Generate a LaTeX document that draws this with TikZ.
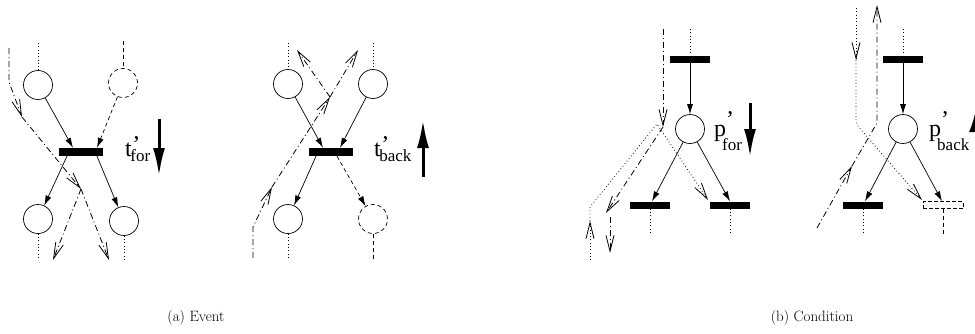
\documentclass[tikz,border=0pt]{standalone}
\usepackage{fontspec}
\newfontfamily\tms{Liberation Serif}
\usetikzlibrary{arrows.meta}
\newcommand\mylbl[6]{{\tms\fontsize{24}{24}\selectfont #1\rlap{\kern#3\raisebox{#4}{’}}}\kern#5\raisebox{-#6}{\tms\fontsize{17}{17}\selectfont #2}}
\tikzset{
 place/.style={circle,draw,line width=0.7pt,minimum size=29pt,inner sep=0pt},
 dplace/.style={place,dash pattern=on 4pt off 3pt},
 bar/.style={rectangle,fill=black,inner sep=0pt,minimum width=44pt,minimum height=8pt},
 cbar/.style={rectangle,fill=black,inner sep=0pt,minimum width=40pt,minimum height=7pt},
 dcbar/.style={rectangle,draw,line width=0.7pt,dash pattern=on 4pt off 2pt,inner sep=0pt,minimum width=40pt,minimum height=7pt},
 arc/.style={line width=0.7pt,-{Latex[length=10pt,width=6pt]}},
 darc/.style={arc,dash pattern=on 4pt off 3pt},
 dotln/.style={line width=0.8pt,dash pattern=on 0.8pt off 2.5pt},
 dashln/.style={line width=0.7pt,dash pattern=on 4pt off 3pt},
 dashdot/.style={line width=0.8pt,dash pattern=on 6pt off 3pt on 1pt off 3pt},
 flow/.style={-{Straight Barb[length=16pt,width=8pt,line width=0.8pt]}},
 bigarr/.style={line width=3pt,-{Latex[length=28pt,width=12pt]}},
 lab/.style={inner sep=0pt,anchor=base west},
 captext/.style={inner sep=0pt,font=\fontsize{15}{17}\selectfont}
}
\begin{document}
\begin{tikzpicture}[x=1pt,y=-1pt]
\useasboundingbox (0,0) rectangle (975,333);
% ---------- panel 1: event forward
\node[place] (p1a) at (38,85) {};
\node[dplace] (p1b) at (123,83) {};
\node[bar] (t1) at (81,152) {};
\node[place] (p1c) at (38,219) {};
\node[place] (p1d) at (124,221) {};
\coordinate (s1a) at (38,43); \coordinate (s1b) at (123,41);
\coordinate (s1c) at (38,260); \coordinate (s1d) at (124,260);
\draw[dotln] (s1a) -- (p1a);
\draw[dashln] (s1b) -- (p1b);
\draw[dotln] (p1c) -- (s1c);
\draw[dotln] (p1d) -- (s1d);
\draw[arc] (p1a) -- ([xshift=-8pt]t1.north);
\draw[darc] (p1b) -- ([xshift=16pt]t1.north);
\draw[arc] ([xshift=-14pt]t1.south) -- (p1c);
\draw[arc] ([xshift=16pt]t1.south) -- (p1d);
\coordinate (f1a) at (9,48); \coordinate (f1b) at (9,82); \coordinate (f1c) at (22,117);
\coordinate (f1d) at (81,189); \coordinate (f1e) at (53,260); \coordinate (f1f) at (109,260);
\draw[dashdot,flow] (f1a) -- (f1b) -- (f1c);
\draw[dashdot,flow] (f1c) -- (f1d);
\draw[dashdot,flow] (f1d) -- (f1e);
\draw[dashdot,flow] (f1d) -- (f1f);
\node[lab] (l1) at (125,156) {\mylbl{t}{for}{0.5pt}{4pt}{-1.5pt}{5pt}};
\coordinate (b1s) at (159,119); \coordinate (b1e) at (159,176);
\draw[bigarr] (b1s) -- (b1e);
% ---------- panel 2: event backward
\node[place] (p2a) at (288,84) {};
\node[place] (p2b) at (373,84) {};
\node[bar] (t2) at (331,152) {};
\node[place] (p2c) at (288,219) {};
\node[dplace] (p2d) at (373,219) {};
\coordinate (s2a) at (288,43); \coordinate (s2b) at (373,43);
\coordinate (s2c) at (288,260); \coordinate (s2d) at (373,260);
\draw[dotln] (s2a) -- (p2a);
\draw[dotln] (s2b) -- (p2b);
\draw[dotln] (p2c) -- (s2c);
\draw[dashln] (p2d) -- (s2d);
\draw[arc] (p2a) -- ([xshift=-8pt]t2.north);
\draw[arc] (p2b) -- ([xshift=9pt]t2.north);
\draw[arc] ([xshift=-15pt]t2.south) -- (p2c);
\draw[darc] ([xshift=6pt]t2.south) -- (p2d);
\coordinate (f2a) at (253,258); \coordinate (f2b) at (253,227); \coordinate (f2c) at (272,187);
\coordinate (f2d) at (330,97); \coordinate (f2e) at (358,50); \coordinate (f2f) at (297,50);
\draw[dashdot,flow] (f2a) -- (f2b) -- (f2c);
\draw[dashdot,flow] (f2c) -- (f2d);
\draw[dashdot,flow] (f2d) -- (f2e);
\draw[dashdot,flow] (f2d) -- (f2f);
\node[lab] (l2) at (374,156) {\mylbl{t}{back}{0.5pt}{4pt}{-1.5pt}{5pt}};
\coordinate (b2s) at (423,177); \coordinate (b2e) at (423,120);
\draw[bigarr] (b2s) -- (b2e);
% ---------- panel 3: condition forward
\node[cbar] (t3a) at (690,59) {};
\node[place] (p3) at (690,129) {};
\node[cbar] (t3b) at (650,205) {};
\node[cbar] (t3c) at (730,205) {};
\coordinate (s3a) at (690,29); \coordinate (s3b) at (650,235); \coordinate (s3c) at (730,235);
\draw[dotln] (s3a) -- (t3a.north);
\draw[dotln] (t3b.south) -- (s3b);
\draw[dotln] (t3c.south) -- (s3c);
\draw[arc] (t3a) -- (p3);
\draw[arc] (p3) -- ([xshift=2pt]t3b.north);
\draw[arc] (p3) -- (t3c.north);
\coordinate (f3a) at (663,29); \coordinate (f3b) at (663,127); \coordinate (f3c) at (606,213);
\coordinate (f3d) at (610,217); \coordinate (f3e) at (610,253);
\draw[dashdot,flow] (f3a) -- (f3b);
\draw[dashdot,flow] (f3b) -- (f3c);
\draw[dashdot,flow] (f3d) -- (f3e);
\coordinate (g3a) at (590,260); \coordinate (g3b) at (590,221); \coordinate (g3c) at (590,207);
\coordinate (g3d) at (657,124); \coordinate (g3e) at (708,200);
\draw[dotln,flow] (g3a) -- (g3b);
\draw[dotln,flow] (g3b) -- (g3c) -- (g3d) -- (g3e);
\node[lab] (l3) at (714,136) {\mylbl{p}{for}{0pt}{9pt}{-4pt}{14pt}};
\coordinate (b3s) at (750,103); \coordinate (b3e) at (750,157);
\draw[bigarr] (b3s) -- (b3e);
% ---------- panel 4: condition backward
\node[cbar] (t4a) at (903,59) {};
\node[place] (p4) at (903,129) {};
\node[cbar] (t4b) at (863,205) {};
\node[dcbar] (t4c) at (943,205) {};
\coordinate (s4a) at (903,29); \coordinate (s4b) at (863,235); \coordinate (s4c) at (943,235);
\draw[dotln] (s4a) -- (t4a.north);
\draw[dotln] (t4b.south) -- (s4b);
\draw[dashln] (t4c.south) -- (s4c);
\draw[arc] (t4a) -- (p4);
\draw[arc] (p4) -- ([xshift=2pt]t4b.north);
\draw[arc] (p4) -- ([xshift=-1pt]t4c.north);
\coordinate (g4a) at (856,8); \coordinate (g4b) at (856,60); \coordinate (g4c) at (856,124);
\coordinate (g4d) at (922,200);
\draw[dotln,flow] (g4a) -- (g4b);
\draw[dotln,flow,rounded corners=5pt] (g4b) -- (g4c) -- (g4d);
\coordinate (f4a) at (817,228); \coordinate (f4b) at (852,166); \coordinate (f4c) at (877,123);
\coordinate (f4d) at (877,5);
\draw[dashdot,flow] (f4a) -- (f4b);
\draw[dashdot,flow] (f4b) -- (f4c) -- (f4d);
\node[lab] (l4) at (929,136) {\mylbl{p}{back}{0pt}{9pt}{-4pt}{14pt}};
\coordinate (b4s) at (977,160); \coordinate (b4e) at (977,104);
\draw[line width=3pt,-{Latex[length=28pt,width=16pt]}] (b4s) -- (b4e);
% ---------- captions
\node[captext] (c1) at (196,318) {(a) Event};
\node[captext] (c2) at (812,318) {(b) Condition};
\end{tikzpicture}
\end{document}
